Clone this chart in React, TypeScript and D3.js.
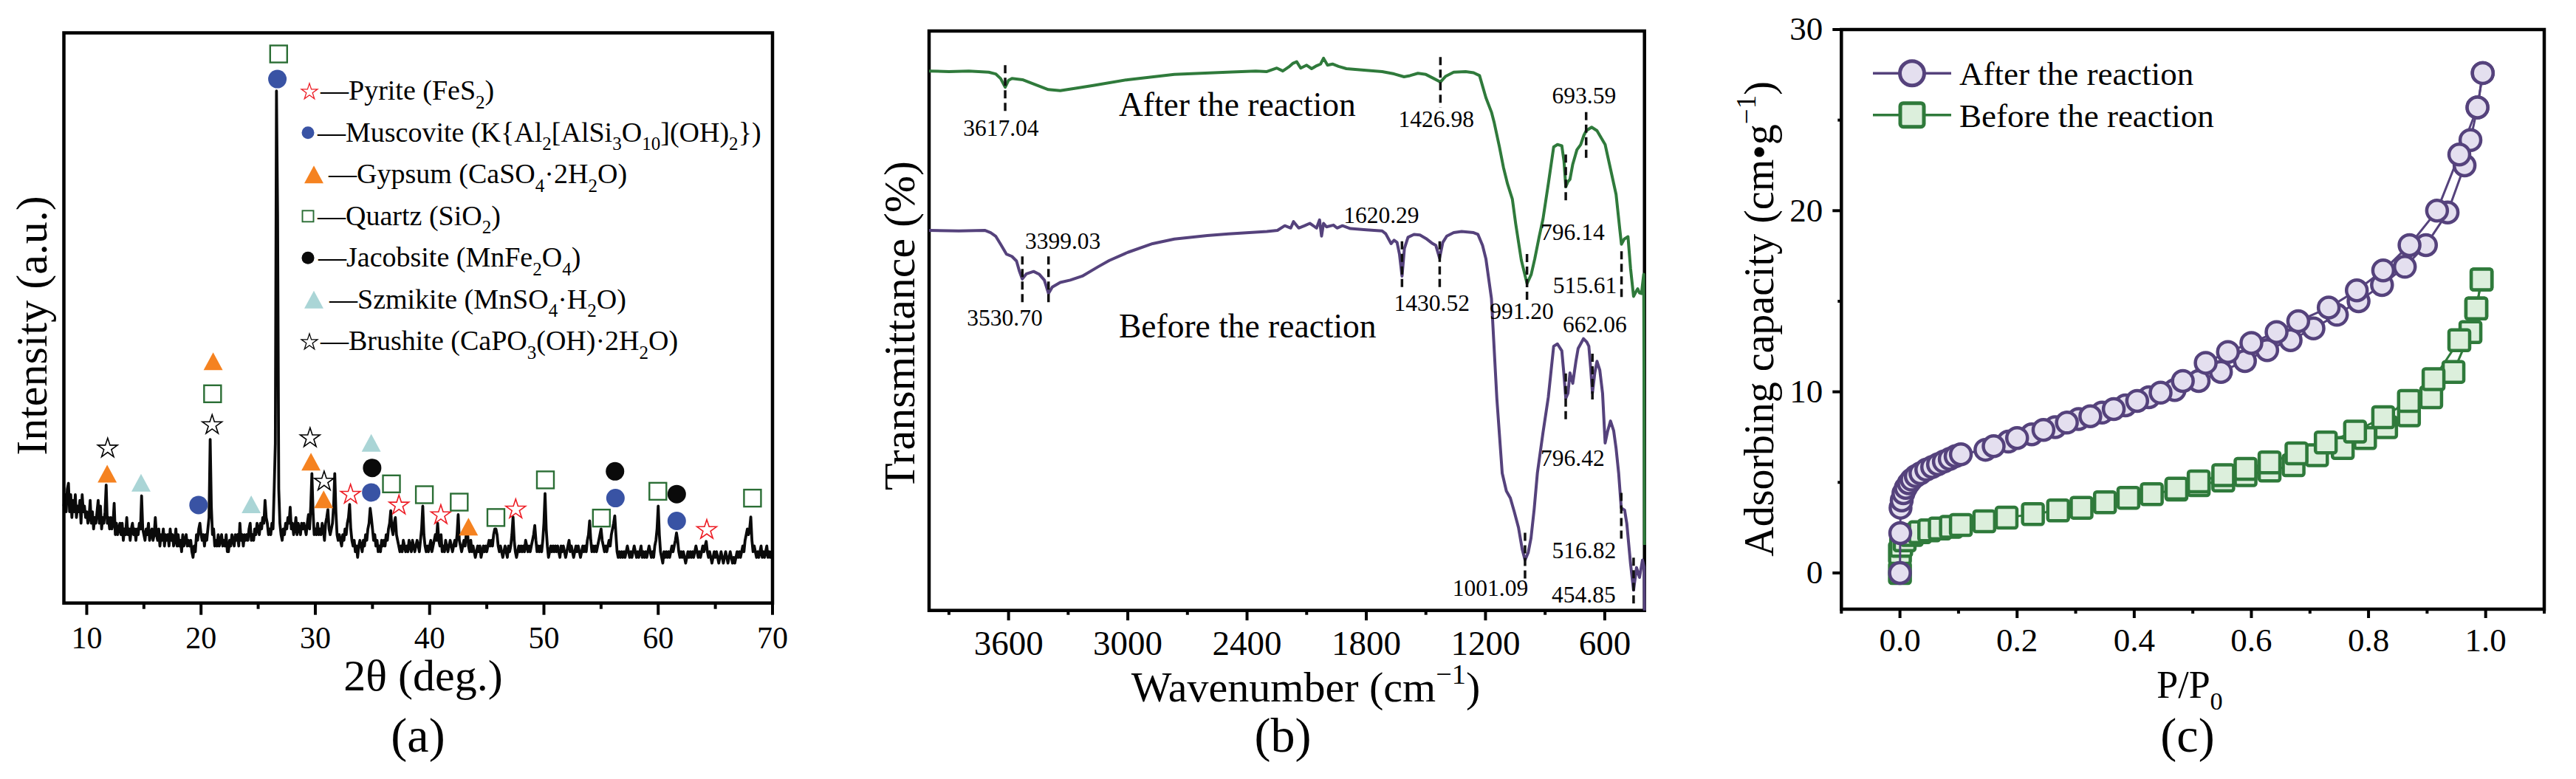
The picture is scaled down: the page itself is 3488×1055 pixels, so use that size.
import * as d3 from "d3"

const FONT = "'Liberation Serif', 'Times New Roman', Times, serif"
const W = 3488
const H = 1055

// ---------- (a) XRD pattern: 2θ from 8° in 0.1° steps ----------
const xrdStart = 8
const xrdStep = 0.1
const xrdIntensity = [
  17, 19, 16, 20, 21, 16, 19, 15, 18, 16,
  19, 15, 17, 16, 18, 14, 19, 16, 17, 15,
  16, 14, 15, 18, 14, 16, 13, 15, 14, 16,
  18, 14, 17, 13, 15, 14, 16, 20.7, 14, 15,
  13, 15, 13, 14, 17.5, 12, 14, 12, 13, 14,
  12, 14, 11, 13, 12, 15, 12, 13, 11, 13,
  14, 12, 13, 11, 13, 12, 14, 13, 18.8, 13,
  12, 11, 13, 12, 14, 11, 12, 13, 11, 12,
  15, 12, 11, 13, 10, 12, 11, 13, 10, 12,
  11, 12, 10, 13, 11, 12, 10, 11, 13, 10,
  12, 10, 11, 9, 12, 10, 11, 12, 10, 11,
  10, 11, 9, 8, 10, 9, 12, 11, 13, 14,
  12, 11, 12, 10, 12, 11, 13, 15, 28.7, 17,
  12, 13, 10, 11, 10, 12, 10, 11, 12, 10,
  11, 10, 12, 9, 9, 11, 10, 12, 11, 10,
  12, 11, 12, 10, 14, 11, 12, 10, 12, 11,
  12, 11, 13, 14, 11, 12, 11, 13, 12, 14,
  13, 12, 14, 13, 15, 14, 18, 15, 14, 12,
  13, 12, 14, 13, 20, 28, 89.8, 68, 20, 14,
  12, 11, 13, 12, 14, 13, 15, 14, 16.8, 13,
  14, 12, 13, 15, 12, 14, 13, 12, 14, 13,
  14, 13, 12, 14, 15.5, 13, 17, 22.7, 16, 12,
  13, 12, 14, 12, 13, 12, 14, 13, 11, 14,
  15, 16.4, 13, 12, 13, 14, 17, 22.7, 16, 12,
  11, 12, 11, 10, 12, 11, 13, 12, 14, 15,
  17.3, 13, 11, 10, 11, 9, 10, 8, 10, 11,
  10, 9, 11, 10, 12, 11, 13, 14, 16.6, 15,
  13, 11, 12, 10, 11, 9, 10, 9, 11, 10,
  11, 10, 12, 11, 13, 14, 16.2, 13, 12, 14,
  15, 12, 11, 10, 9, 10, 9, 11, 10, 9,
  10, 9, 11, 10, 9, 11, 10, 9, 10, 11,
  10, 9, 11, 13, 17, 12, 10, 9, 10, 9,
  10, 11, 9, 10, 11, 12, 11, 14, 11, 10,
  12, 9, 10, 9, 11, 10, 9, 10, 11, 10,
  9, 10, 11, 10, 12, 15.5, 11, 10, 9, 10,
  11, 10, 12, 13, 10, 9, 11, 9, 10, 9,
  8, 9, 10, 9, 10, 8, 9, 10, 9, 10,
  9, 10, 11, 10, 11, 10, 12, 13, 13, 12,
  10, 9, 10, 9, 8, 9, 10, 9, 8, 10,
  9, 10, 12, 15.1, 11, 9, 8, 9, 10, 9,
  10, 9, 10, 9, 11, 10, 9, 10, 9, 10,
  11, 12, 13.6, 11, 9, 10, 9, 10, 9, 11,
  14, 19.2, 13, 10, 8, 9, 10, 9, 10, 9,
  10, 9, 10, 9, 8, 10, 9, 10, 9, 8,
  9, 10, 11, 9, 10, 9, 8, 9, 10, 9,
  10, 9, 8, 9, 10, 9, 10, 9, 11, 12,
  14.4, 11, 9, 10, 9, 10, 9, 10, 11, 12,
  13, 11, 10, 9, 10, 9, 10, 11, 10, 12,
  13, 14, 15.3, 12, 9, 8, 9, 8, 9, 8,
  9, 8, 9, 10, 9, 8, 9, 8, 9, 10,
  9, 8, 9, 8, 9, 10, 8, 9, 8, 9,
  8, 9, 10, 9, 8, 9, 8, 10, 11, 13,
  17, 12, 9, 8, 7, 9, 8, 9, 8, 9,
  8, 9, 10, 9, 10, 11, 12.3, 11, 9, 8,
  9, 8, 9, 8, 7, 8, 9, 8, 9, 8,
  9, 8, 9, 10, 9, 8, 9, 8, 9, 10,
  9, 10, 10.8, 9, 8, 9, 8, 7, 8, 9,
  8, 9, 8, 7, 8, 9, 8, 7, 8, 9,
  8, 7, 8, 9, 8, 7, 8, 7, 8, 9,
  8, 9, 8, 9, 10, 9, 11, 12, 13, 12,
  13, 15.1, 11, 9, 10, 9, 8, 9, 8, 9,
  10, 8, 9, 8, 9, 10, 8, 9, 8, 9,
  8,
]
const xrdTicks = [10, 20, 30, 40, 50, 60, 70]
const xrdMinorTicks = [15, 25, 35, 45, 55, 65]

// phase reflections marked above the pattern [2θ, height]
const pyritePeaks = [[33.08, 19.2], [37.32, 17.3], [40.98, 15.6], [47.53, 16.6], [64.25, 13.0]]
const muscovitePeaks = [[19.78, 17.2], [26.68, 91.9], [34.89, 19.4], [56.26, 18.4], [61.62, 14.4]]
const gypsumPeaks = [[11.79, 22.7], [21.06, 42.4], [29.62, 24.8], [30.73, 18.2], [43.4, 13.4]]
const quartzPeaks = [
  [21.01, 36.7], [26.79, 96.3], [36.66, 20.9], [39.54, 19.0], [42.59, 17.7],
  [45.8, 15.0], [50.13, 21.6], [55.03, 14.9], [59.97, 19.6], [68.25, 18.4],
]
const jacobsitePeaks = [[34.97, 23.7], [56.22, 23.1], [61.62, 19.1]]
const szmikitePeaks = [[14.75, 21.1], [24.39, 17.3], [34.89, 28.1]]
const brushitePeaks = [[11.83, 27.3], [20.97, 31.4], [29.54, 29.1], [30.77, 21.5]]

const phaseNames = [
  "—Pyrite (FeS_{2})",
  "—Muscovite (K{Al_{2}[AlSi_{3}O_{10}](OH)_{2}})",
  "—Gypsum (CaSO_{4}·2H_{2}O)",
  "—Quartz (SiO_{2})",
  "—Jacobsite (MnFe_{2}O_{4})",
  "—Szmikite (MnSO_{4}·H_{2}O)",
  "—Brushite (CaPO_{3}(OH)·2H_{2}O)",
]

// ---------- (b) FTIR spectra [wavenumber, transmittance (arb.)] ----------
const ftirAfter = [
  [4000, 93.1], [3900, 93.0], [3800, 93.1], [3700, 92.9], [3665, 92.6], [3640, 91.8], [3617, 90.3],
  [3600, 91.5], [3583, 91.8], [3530, 91.6], [3470, 90.8], [3400, 89.9], [3340, 89.7], [3250, 90.2],
  [3174, 90.6], [3000, 91.6], [2766, 92.5], [2500, 92.9], [2356, 93.1], [2300, 93.0], [2250, 93.6],
  [2220, 93.1], [2190, 93.8], [2170, 94.4], [2150, 94.7], [2130, 93.6], [2100, 94.1], [2075, 93.5],
  [2050, 94.0], [2030, 94.3], [2015, 95.3], [1995, 94.1], [1970, 94.3], [1940, 93.9], [1900, 93.5],
  [1800, 93.2], [1720, 93.0], [1660, 92.6], [1610, 92.1], [1580, 92.3], [1540, 92.7], [1500, 92.5],
  [1460, 91.8], [1427, 91.2], [1400, 92.2], [1360, 92.9], [1300, 93.0], [1260, 92.8], [1230, 92.3],
  [1198, 88.5], [1170, 86.0], [1157, 84.3], [1130, 80.0], [1110, 76.5], [1089, 73.6], [1065, 71.0],
  [1048, 66.7], [1020, 60.5], [991, 56.4], [970, 58.0], [952, 60.7], [930, 64.5], [911, 67.5],
  [884, 73.6], [857, 80.0], [838, 80.4], [816, 80.2], [805, 77.5], [796, 73.1], [785, 74.0],
  [775, 74.4], [761, 77.0], [740, 79.5], [721, 80.4], [705, 82.0], [693, 82.8], [666, 83.4],
  [639, 82.8], [598, 80.4], [571, 76.2], [543, 71.8], [525, 66.0], [516, 63.2], [502, 64.1],
  [483, 64.5], [470, 59.0], [455, 54.2], [440, 55.2], [434, 55.5], [425, 54.8], [415, 54.7],
  [404, 58.0], [400, 11.3],
]
const ftirBefore = [
  [4000, 65.6], [3850, 65.5], [3720, 65.6], [3690, 65.2], [3665, 64.6], [3640, 63.2], [3611, 61.5],
  [3583, 61.1], [3560, 60.3], [3545, 58.5], [3531, 57.2], [3510, 58.1], [3474, 58.5], [3445, 58.0],
  [3420, 57.0], [3399, 54.7], [3380, 55.8], [3340, 56.6], [3290, 57.0], [3229, 57.7], [3150, 59.3],
  [3093, 60.4], [3000, 61.8], [2875, 63.3], [2766, 64.1], [2600, 64.7], [2493, 65.0], [2300, 65.4],
  [2247, 65.6], [2210, 66.4], [2180, 66.0], [2166, 67.1], [2140, 66.0], [2110, 66.4], [2084, 66.8],
  [2050, 66.0], [2035, 67.4], [2025, 64.6], [2015, 66.8], [2000, 66.2], [1965, 66.5], [1947, 66.0],
  [1920, 66.4], [1880, 65.9], [1800, 65.7], [1720, 65.5], [1702, 65.0], [1675, 63.3], [1660, 63.9],
  [1645, 63.5], [1633, 61.5], [1620, 57.7], [1608, 62.5], [1590, 64.4], [1560, 64.9], [1530, 64.8],
  [1500, 64.2], [1470, 63.4], [1450, 63.0], [1431, 60.8], [1415, 63.5], [1395, 64.6], [1360, 65.2],
  [1320, 65.4], [1260, 65.2], [1238, 64.9], [1215, 63.0], [1198, 60.7], [1170, 53.8], [1143, 36.6],
  [1116, 23.7], [1095, 20.6], [1075, 19.4], [1055, 17.0], [1034, 14.3], [1015, 10.5], [1001, 8.7],
  [985, 10.0], [971, 12.5], [955, 17.5], [939, 23.7], [911, 30.6], [884, 36.8], [857, 45.6],
  [838, 46.0], [816, 44.8], [806, 41.0], [796, 36.6], [785, 37.5], [775, 41.0], [761, 39.2],
  [745, 43.0], [734, 45.2], [707, 46.9], [690, 46.3], [680, 45.6], [670, 41.5], [662, 37.5],
  [650, 41.0], [639, 43.0], [625, 41.5], [611, 37.5], [598, 28.9], [585, 31.0], [571, 32.7],
  [555, 31.0], [543, 28.0], [530, 23.7], [517, 17.7], [500, 17.3], [489, 15.0], [470, 8.0],
  [455, 3.5], [440, 7.4], [425, 5.7], [410, 8.7], [402, 7.5], [400, 0],
]
const ftirTicks = [3600, 3000, 2400, 1800, 1200, 600]
const ftirMinorTicks = [3900, 3300, 2700, 2100, 1500, 900]

// assigned bands
const afterBands = [3617.04, 1426.98, 991.2, 796.14, 693.59, 515.61]
const beforeBands = [3530.7, 3399.03, 1620.29, 1430.52, 1001.09, 796.42, 662.06, 516.82, 454.85]

// dashed guide extent (top, bottom) and label anchor (wavenumber, height) for each band
const afterBandLayout = [
  { top: 94.1, bottom: 85.9, lx: 3638, ly: 81.9 },
  { top: 95.5, bottom: 86.8, lx: 1448, ly: 83.4 },
  { top: 61.5, bottom: 53.0, lx: 1017.6, ly: 50.3 },
  { top: 78.7, bottom: 70.1, lx: 761.5, ly: 63.9 },
  { top: 86.0, bottom: 77.9, lx: 704, ly: 87.5 },
  { top: 62.0, bottom: 54.0, lx: 700, ly: 54.7 },
]
const beforeBandLayout = [
  { top: 61.1, bottom: 52.5, lx: 3619, ly: 49.1 },
  { top: 61.1, bottom: 52.5, lx: 3327, ly: 62.4 },
  { top: 63.7, bottom: 55.5, lx: 1724, ly: 66.9 },
  { top: 63.7, bottom: 55.5, lx: 1470, ly: 51.7 },
  { top: 13.4, bottom: 5.1, lx: 1175.5, ly: 2.5 },
  { top: 40.9, bottom: 32.3, lx: 761.5, ly: 25.0 },
  { top: 44.3, bottom: 35.8, lx: 650, ly: 48.0 },
  { top: 20.3, bottom: 12.3, lx: 704, ly: 9.0 },
  { top: 9.1, bottom: 1.1, lx: 706, ly: 1.4 },
]

// ---------- (c) N2 isotherms [P/P0, adsorbed amount] ----------
const afterAdsorption = [
  [0, 0], [0.0005, 2.2], [0.001, 3.6], [0.003, 4.0], [0.006, 4.4], [0.01, 4.7], [0.015, 4.95],
  [0.02, 5.15], [0.027, 5.35], [0.035, 5.5], [0.045, 5.7], [0.055, 5.85], [0.065, 6.0], [0.075, 6.15],
  [0.085, 6.3], [0.095, 6.45], [0.104, 6.55], [0.146, 6.8], [0.185, 7.25], [0.225, 7.65], [0.265, 8.05],
  [0.305, 8.5], [0.345, 8.85], [0.385, 9.25], [0.425, 9.7], [0.469, 10.1], [0.51, 10.6], [0.548, 11.1],
  [0.589, 11.7], [0.627, 12.3], [0.667, 12.85], [0.706, 13.5], [0.746, 14.25], [0.783, 15.0],
  [0.823, 15.9], [0.862, 16.9], [0.898, 18.1], [0.935, 19.9], [0.964, 22.5], [0.974, 23.9],
  [0.986, 25.7], [0.995, 27.6],
]
const afterDesorption = [
  [0.995, 27.6], [0.986, 25.7], [0.955, 23.1], [0.917, 20.0], [0.87, 18.1], [0.825, 16.7], [0.78, 15.6],
  [0.732, 14.65], [0.68, 13.9], [0.643, 13.3], [0.6, 12.7], [0.56, 12.2], [0.522, 11.6], [0.483, 10.6],
  [0.445, 9.95], [0.405, 9.5], [0.365, 9.05], [0.325, 8.65], [0.285, 8.3], [0.245, 7.9], [0.2, 7.45],
  [0.16, 7.0],
]
const beforeAdsorption = [
  [0, 0], [0, 1.1], [0.002, 1.5], [0.008, 1.8], [0.02, 2.1], [0.034, 2.25], [0.05, 2.35], [0.068, 2.45],
  [0.087, 2.55], [0.104, 2.65], [0.144, 2.85], [0.182, 3.05], [0.227, 3.25], [0.27, 3.45], [0.31, 3.6],
  [0.35, 3.9], [0.39, 4.15], [0.43, 4.35], [0.472, 4.6], [0.51, 4.85], [0.552, 5.1], [0.59, 5.4],
  [0.631, 5.65], [0.672, 5.95], [0.712, 6.5], [0.756, 6.9], [0.794, 7.45], [0.83, 8.05], [0.869, 8.7],
  [0.907, 9.7], [0.945, 11.1], [0.974, 13.3], [0.984, 14.6], [0.993, 16.2],
]
const beforeDesorption = [
  [0.993, 16.2], [0.984, 14.6], [0.955, 12.85], [0.911, 10.7], [0.869, 9.5], [0.825, 8.6], [0.777, 7.8],
  [0.727, 7.2], [0.677, 6.6], [0.631, 6.1], [0.59, 5.75], [0.552, 5.4], [0.51, 5.05], [0.472, 4.65],
]
const betXTicks = [0, 0.2, 0.4, 0.6, 0.8, 1.0]
const betXMinorTicks = [-0.1, 0.1, 0.3, 0.5, 0.7, 0.9, 1.1]
const betYTicks = [0, 10, 20, 30]
const betYMinorTicks = [5, 15, 25]
const seriesNames = ["After the reaction", "Before the reaction"]

// ---------- helpers ----------
const GREEN = "#2f7a3b"
const PURPLE = "#55427c"

// "_{..}" -> subscript, "^{..}" -> superscript
function rich(text: string, size: number) {
  const parts = text.split(/(_\{[^}]*\}|\^\{[^}]*\})/).filter((p) => p !== "")
  let shift = 0
  return parts.map((p, i) => {
    let target = 0
    let body = p
    let fs = size
    if (p.startsWith("_{")) {
      target = 0.3 * size
      body = p.slice(2, -1)
      fs = 0.66 * size
    } else if (p.startsWith("^{")) {
      target = -0.42 * size
      body = p.slice(2, -1)
      fs = 0.66 * size
    }
    const dy = target - shift
    shift = target
    return (
      <tspan key={i} dy={dy} fontSize={fs}>
        {body}
      </tspan>
    )
  })
}

function starPath(cx: number, cy: number, R: number) {
  const r = R * 0.382
  const oy = cy + R * 0.0955
  const pts = d3.range(10).map((i) => {
    const a = -Math.PI / 2 + (i * Math.PI) / 5
    const rad = i % 2 ? r : R
    return [cx + rad * Math.cos(a), oy + rad * Math.sin(a)]
  })
  return "M" + pts.map((p) => p.join(",")).join("L") + "Z"
}

function Marker({ shape, cx, cy, size, fill, stroke, sw }: any) {
  if (shape === "circle") return <circle cx={cx} cy={cy} r={size} fill={fill} stroke={stroke} strokeWidth={sw} />
  if (shape === "square")
    return <rect x={cx - size / 2} y={cy - size / 2} width={size} height={size} fill={fill} stroke={stroke} strokeWidth={sw} />
  if (shape === "triangle") {
    const w = size * 1.08
    const h = size
    return (
      <path
        d={`M${cx},${cy - h / 2}L${cx + w / 2},${cy + h / 2}L${cx - w / 2},${cy + h / 2}Z`}
        fill={fill}
        stroke={stroke}
        strokeWidth={sw}
      />
    )
  }
  return <path d={starPath(cx, cy, size)} fill={fill} stroke={stroke} strokeWidth={sw} strokeLinejoin="miter" />
}

function BottomAxis({ scale, y, major, minor, majorLen, minorLen, labelY, fontSize, fmt }: any) {
  return (
    <g>
      {minor.map((v: number) => (
        <line key={"m" + v} x1={scale(v)} x2={scale(v)} y1={y} y2={y + minorLen} stroke="#000" strokeWidth={4} />
      ))}
      {major.map((v: number) => (
        <g key={"M" + v}>
          <line x1={scale(v)} x2={scale(v)} y1={y} y2={y + majorLen} stroke="#000" strokeWidth={4} />
          <text x={scale(v)} y={labelY} textAnchor="middle" fontSize={fontSize}>
            {fmt(v)}
          </text>
        </g>
      ))}
    </g>
  )
}

// ---------- (a) ----------
function XrdPanel() {
  const box = { left: 86.5, right: 1046, top: 44.5, bottom: 816.7 }
  const x = d3.scaleLinear().domain([8, 70]).range([box.left, box.right])
  const y = d3.scaleLinear().domain([0, 100]).range([box.bottom, box.top])
  const pts = xrdIntensity.map((v, i) => [xrdStart + i * xrdStep, v])
  const line = d3
    .line<number[]>()
    .x((d) => x(d[0]))
    .y((d) => y(d[1]))

  const phases = [
    { peaks: pyritePeaks, shape: "star", fill: "#fff", stroke: "#ed1c24", sw: 1.6, size: 14, lsize: 11.5, lx: 419, tx: 434 },
    { peaks: muscovitePeaks, shape: "circle", fill: "#3953a4", stroke: "none", sw: 0, size: 12.5, lsize: 8.5, lx: 417, tx: 430 },
    { peaks: gypsumPeaks, shape: "triangle", fill: "#f58220", stroke: "none", sw: 0, size: 24, lsize: 24, lx: 425, tx: 445 },
    { peaks: quartzPeaks, shape: "square", fill: "#fff", stroke: "#2b6e35", sw: 2.4, size: 23, lsize: 15, lx: 417, tx: 430 },
    { peaks: jacobsitePeaks, shape: "circle", fill: "#0a0a0a", stroke: "none", sw: 0, size: 12.5, lsize: 8.5, lx: 417, tx: 431 },
    { peaks: szmikitePeaks, shape: "triangle", fill: "#aad5d6", stroke: "none", sw: 0, size: 24, lsize: 24, lx: 425, tx: 446 },
    { peaks: brushitePeaks, shape: "star", fill: "#fff", stroke: "#000", sw: 1.6, size: 14, lsize: 11.5, lx: 419, tx: 434 },
  ]
  const legendTop = 123.3
  const legendStep = 56.5
  const fs = 38

  return (
    <g>
      <path d={line(pts) || ""} fill="none" stroke="#0a0a0a" strokeWidth={3.8} strokeLinejoin="round" />
      {phases.map((ph, i) =>
        ph.peaks.map((p, j) => (
          <Marker key={i + "-" + j} shape={ph.shape} cx={x(p[0])} cy={y(p[1])} size={ph.size} fill={ph.fill} stroke={ph.stroke} sw={ph.sw} />
        ))
      )}
      {phases.map((ph, i) => {
        const cy = legendTop + i * legendStep
        return (
          <g key={"lg" + i}>
            <Marker shape={ph.shape} cx={ph.lx} cy={cy} size={ph.lsize} fill={ph.fill} stroke={ph.stroke} sw={ph.sw * 0.8} />
            <text x={ph.tx} y={cy + 12} fontSize={fs}>
              {rich(phaseNames[i], fs)}
            </text>
          </g>
        )
      })}
      <rect x={box.left} y={box.top} width={box.right - box.left} height={box.bottom - box.top} fill="none" stroke="#000" strokeWidth={4.5} />
      <BottomAxis scale={x} y={box.bottom} major={xrdTicks} minor={xrdMinorTicks} majorLen={16} minorLen={8} labelY={878} fontSize={42} fmt={(v: number) => String(v)} />
      <text x={573} y={935} textAnchor="middle" fontSize={60}>
        2θ (deg.)
      </text>
      <text transform="translate(63,441) rotate(-90)" textAnchor="middle" fontSize={60}>
        Intensity (a.u.)
      </text>
      <text x={566} y={1018} textAnchor="middle" fontSize={66}>
        (a)
      </text>
    </g>
  )
}

// ---------- (b) ----------
function FtirPanel() {
  const box = { left: 1258, right: 2226.7, top: 42, bottom: 826.7 }
  const x = d3.scaleLinear().domain([4000, 400]).range([box.left, box.right])
  const y = d3.scaleLinear().domain([0, 100]).range([box.bottom, box.top])
  const line = d3
    .line<number[]>()
    .x((d) => x(d[0]))
    .y((d) => y(d[1]))
  const fmt = d3.format(".2f")

  const guides = (bands: number[], layout: any[], key: string) =>
    bands.map((wn, i) => {
      const l = layout[i]
      return (
        <g key={key + i}>
          <line x1={x(wn)} x2={x(wn)} y1={y(l.top)} y2={y(l.bottom)} stroke="#111" strokeWidth={3.5} strokeDasharray="11 6" />
          <text x={x(l.lx)} y={y(l.ly)} textAnchor="middle" fontSize={31.5}>
            {fmt(wn)}
          </text>
        </g>
      )
    })

  return (
    <g>
      <rect x={box.left} y={box.top} width={box.right - box.left} height={box.bottom - box.top} fill="none" stroke="#000" strokeWidth={4.5} />
      <path d={line(ftirAfter) || ""} fill="none" stroke={GREEN} strokeWidth={4} strokeLinejoin="round" />
      <path d={line(ftirBefore) || ""} fill="none" stroke={PURPLE} strokeWidth={4} strokeLinejoin="round" />
      {guides(afterBands, afterBandLayout, "a")}
      {guides(beforeBands, beforeBandLayout, "b")}
      <text x={x(3045)} y={y(85.4)} fontSize={45.5}>
        {seriesNames[0]}
      </text>
      <text x={x(3045)} y={y(47.1)} fontSize={45.5}>
        {seriesNames[1]}
      </text>
      <BottomAxis scale={x} y={box.bottom} major={ftirTicks} minor={ftirMinorTicks} majorLen={13.5} minorLen={6} labelY={886.7} fontSize={47} fmt={(v: number) => String(v)} />
      <text x={1768} y={950} textAnchor="middle" fontSize={58}>
        {rich("Wavenumber (cm^{−1})", 58)}
      </text>
      <text transform="translate(1238,441) rotate(-90)" textAnchor="middle" fontSize={60}>
        Transmittance (%)
      </text>
      <text x={1737} y={1018} textAnchor="middle" fontSize={66}>
        (b)
      </text>
    </g>
  )
}

// ---------- (c) ----------
function BetPanel() {
  const box = { left: 2493.3, right: 3445, top: 40, bottom: 825 }
  const x = d3.scaleLinear().domain([-0.1, 1.1]).range([box.left, box.right])
  const y = d3.scaleLinear().domain([-2, 30]).range([box.bottom, box.top])
  const line = d3
    .line<number[]>()
    .x((d) => x(d[0]))
    .y((d) => y(d[1]))
  const fmt = d3.format(".1f")

  const greenStyle = { stroke: GREEN, fill: "#dcefdc" }
  const purpleStyle = { stroke: PURPLE, fill: "#e4dfef" }

  const squares = (data: number[][], key: string) =>
    data.map((d, i) => (
      <rect key={key + i} x={x(d[0]) - 14} y={y(d[1]) - 14} width={28} height={28} rx={3} fill={greenStyle.fill} stroke={greenStyle.stroke} strokeWidth={4.5} />
    ))
  const circles = (data: number[][], key: string) =>
    data.map((d, i) => (
      <circle key={key + i} cx={x(d[0])} cy={y(d[1])} r={14} fill={purpleStyle.fill} stroke={purpleStyle.stroke} strokeWidth={4.5} />
    ))

  return (
    <g>
      <rect x={box.left} y={box.top} width={box.right - box.left} height={box.bottom - box.top} fill="none" stroke="#000" strokeWidth={4.5} />
      <path d={line(beforeAdsorption) || ""} fill="none" stroke={GREEN} strokeWidth={3} />
      <path d={line(beforeDesorption) || ""} fill="none" stroke={GREEN} strokeWidth={3} />
      {squares(beforeAdsorption, "ba")}
      {squares(beforeDesorption, "bd")}
      <path d={line(afterAdsorption) || ""} fill="none" stroke={PURPLE} strokeWidth={3} />
      <path d={line(afterDesorption) || ""} fill="none" stroke={PURPLE} strokeWidth={3} />
      {circles(afterAdsorption, "aa")}
      {circles(afterDesorption, "ad")}

      {/* legend */}
      <line x1={2536} x2={2642} y1={99.3} y2={99.3} stroke={PURPLE} strokeWidth={3.5} />
      <circle cx={2589} cy={99.3} r={16.5} fill={purpleStyle.fill} stroke={PURPLE} strokeWidth={5} />
      <text x={2653} y={115} fontSize={45}>
        {seriesNames[0]}
      </text>
      <line x1={2536} x2={2642} y1={155.7} y2={155.7} stroke={GREEN} strokeWidth={3.5} />
      <rect x={2589 - 16} y={155.7 - 16} width={32} height={32} rx={4} fill={greenStyle.fill} stroke={GREEN} strokeWidth={5} />
      <text x={2653} y={171.7} fontSize={45}>
        {seriesNames[1]}
      </text>

      <BottomAxis scale={x} y={box.bottom} major={betXTicks} minor={betXMinorTicks} majorLen={12} minorLen={6} labelY={881.7} fontSize={45} fmt={fmt} />
      {betYMinorTicks.map((v) => (
        <line key={"ym" + v} x1={box.left - 5} x2={box.left} y1={y(v)} y2={y(v)} stroke="#000" strokeWidth={4} />
      ))}
      {betYTicks.map((v) => (
        <g key={"y" + v}>
          <line x1={box.left - 12} x2={box.left} y1={y(v)} y2={y(v)} stroke="#000" strokeWidth={4} />
          <text x={box.left - 25} y={y(v)} dy="0.32em" textAnchor="end" fontSize={45}>
            {v}
          </text>
        </g>
      ))}
      <text x={2965} y={945} textAnchor="middle" fontSize={52}>
        {rich("P/P_{0}", 52)}
      </text>
      <text transform="translate(2401,432) rotate(-90)" textAnchor="middle" fontSize={56}>
        {rich("Adsorbing capacity (cm•g^{−1})", 56)}
      </text>
      <text x={2962} y={1018} textAnchor="middle" fontSize={66}>
        (c)
      </text>
    </g>
  )
}

export default function App() {
  return (
    <div style={{ position: "absolute", left: 0, top: 0 }}>
      <svg width={W} height={H} viewBox={`0 0 ${W} ${H}`} style={{ display: "block", background: "#fff" }} fontFamily={FONT} fill="#000">
        <rect width={W} height={H} fill="#fff" />
        <XrdPanel />
        <FtirPanel />
        <BetPanel />
      </svg>
    </div>
  )
}
